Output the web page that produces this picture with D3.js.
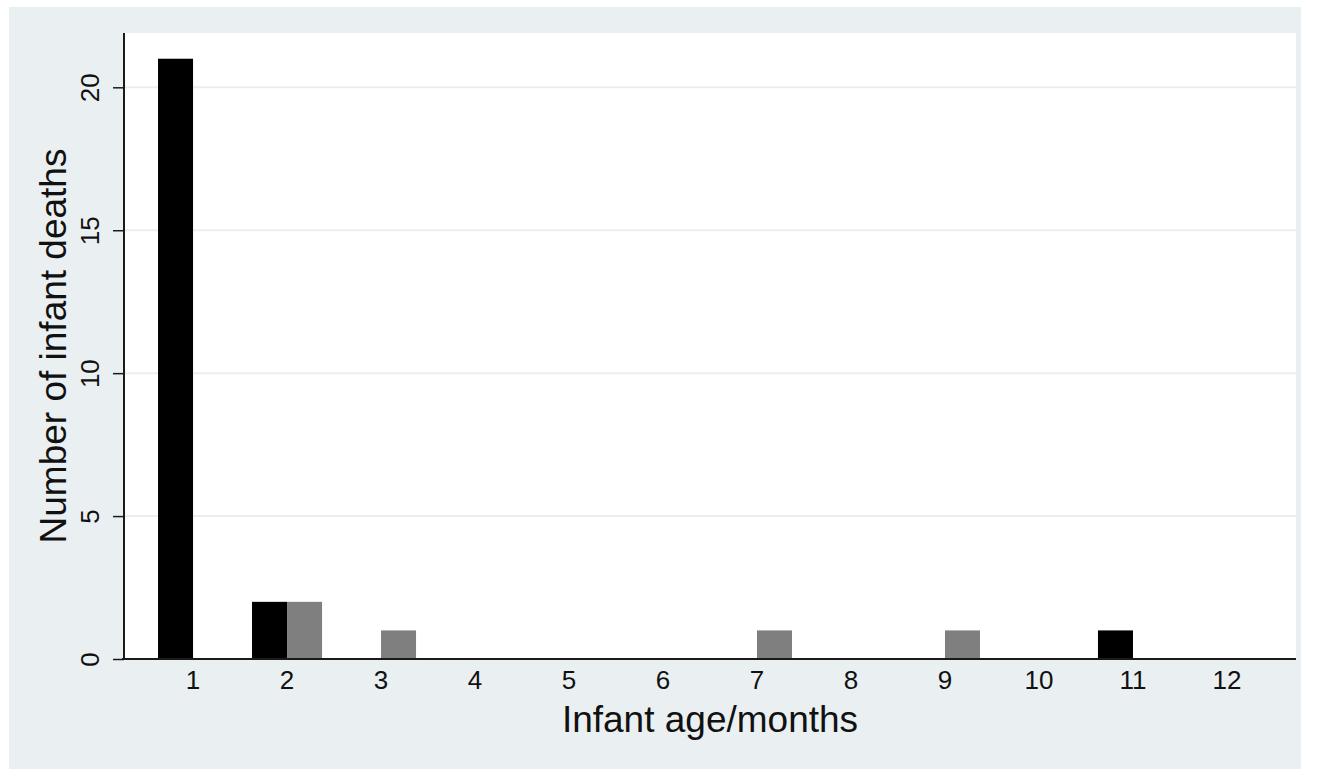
<!DOCTYPE html>
<html>
<head>
<meta charset="utf-8">
<script src="https://cdn.jsdelivr.net/npm/d3@7"></script>
<style>
  html, body { margin: 0; padding: 0; background: #ffffff; }
  svg { display: block; }
  text { font-family: "Liberation Sans", Arial, Helvetica, sans-serif; fill: #111; }
</style>
</head>
<body>
<svg id="chart" width="1319" height="769"></svg>
<script>
// Infant deaths by age in months, two groups side by side
const ageMonths = [1, 2, 3, 4, 5, 6, 7, 8, 9, 10, 11, 12];
const groupNames = ["groupA", "groupB"];
const groupA = [21, 2, 0, 0, 0, 0, 0, 0, 0, 0, 1, 0];
const groupB = [0, 2, 1, 0, 0, 0, 1, 0, 1, 0, 0, 0];
const yTicks = [0, 5, 10, 15, 20];
const groupColors = { groupA: "#000000", groupB: "#7f7f7f" };

const W = 1319, H = 769;
const plot = { left: 124, right: 1296, top: 33, bottom: 659 };

const svg = d3.select("#chart");

// outer graph region
svg.append("rect")
  .attr("x", 9).attr("y", 7)
  .attr("width", 1292).attr("height", H - 7)
  .attr("fill", "#eaeff2");

// plot region
svg.append("rect")
  .attr("x", plot.left).attr("y", plot.top)
  .attr("width", plot.right - plot.left).attr("height", plot.bottom - plot.top)
  .attr("fill", "#ffffff");

const x = d3.scaleBand()
  .domain(ageMonths)
  .range([plot.left, plot.right])
  .paddingInner(0.255)
  .paddingOuter(0.362);

const xSub = d3.scaleBand()
  .domain(groupNames)
  .range([0, x.bandwidth()]);

const y = d3.scaleLinear()
  .domain([0, 21.9])
  .range([plot.bottom, plot.top]);

// horizontal grid lines
svg.append("g")
  .selectAll("line")
  .data(yTicks.filter(d => d > 0))
  .join("line")
  .attr("x1", plot.left).attr("x2", plot.right)
  .attr("y1", d => y(d)).attr("y2", d => y(d))
  .attr("stroke", "#e9eff1")
  .attr("stroke-width", 2);

// bars
const rows = ageMonths.map((m, i) => ({ month: m, groupA: groupA[i], groupB: groupB[i] }));
const cat = svg.append("g")
  .selectAll("g")
  .data(rows)
  .join("g")
  .attr("transform", d => `translate(${x(d.month)},0)`);

cat.selectAll("rect")
  .data(d => groupNames.map(g => ({ g, v: d[g] })).filter(e => e.v > 0))
  .join("rect")
  .attr("x", d => xSub(d.g))
  .attr("width", xSub.bandwidth())
  .attr("y", d => y(d.v))
  .attr("height", d => y(0) - y(d.v))
  .attr("fill", d => groupColors[d.g]);

// y axis
const yAxis = svg.append("g")
  .attr("transform", `translate(${plot.left},0)`)
  .call(d3.axisLeft(y).tickValues(yTicks).tickSize(11).tickPadding(0).tickFormat(d3.format("d")));
yAxis.select(".domain").remove();
yAxis.selectAll(".tick line").attr("stroke", "#1a1a1a").attr("stroke-width", 1.5);
yAxis.selectAll(".tick text")
  .attr("x", null).attr("dy", null)
  .attr("transform", "translate(-25,0) rotate(-90)")
  .attr("text-anchor", "middle")
  .style("font-size", "26px")
  .style("fill", "#111");
yAxis.append("line")
  .attr("x1", 0).attr("x2", 0)
  .attr("y1", plot.top).attr("y2", plot.bottom)
  .attr("stroke", "#1a1a1a").attr("stroke-width", 2);

// x axis (category labels, no ticks)
const xAxis = svg.append("g")
  .attr("transform", `translate(0,${plot.bottom})`)
  .call(d3.axisBottom(x).tickSize(0).tickPadding(0));
xAxis.select(".domain").remove();
xAxis.selectAll(".tick text")
  .attr("y", 30).attr("dy", null)
  .style("font-size", "26px")
  .style("fill", "#111");
xAxis.append("line")
  .attr("x1", plot.left - 2).attr("x2", plot.right)
  .attr("y1", 0).attr("y2", 0)
  .attr("stroke", "#1a1a1a").attr("stroke-width", 2);

// axis titles
svg.append("text")
  .attr("x", (plot.left + plot.right) / 2)
  .attr("y", 732)
  .attr("text-anchor", "middle")
  .style("font-size", "37px")
  .text("Infant age/months");

svg.append("text")
  .attr("transform", `translate(66,${(plot.top + plot.bottom) / 2}) rotate(-90)`)
  .attr("text-anchor", "middle")
  .style("font-size", "37px")
  .text("Number of infant deaths");
</script>
</body>
</html>
